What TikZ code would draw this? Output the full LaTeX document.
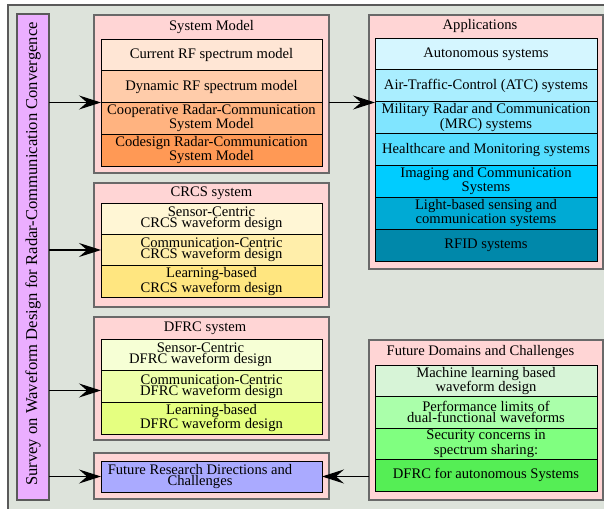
\documentclass[tikz,border=0pt]{standalone}
\usepackage{fontspec}
\setmainfont{Liberation Serif}
\usetikzlibrary{arrows.meta,calc}

\definecolor{bgfill}{RGB}{221,227,219}
\definecolor{frameline}{RGB}{90,90,90}
\definecolor{groupfill}{HTML}{FFD5D5}
\definecolor{groupline}{RGB}{105,105,105}
\definecolor{barfill}{HTML}{EBAEFF}
% system model rows
\definecolor{smA}{HTML}{FFE6D5}
\definecolor{smB}{HTML}{FFCCAA}
\definecolor{smC}{HTML}{FFB380}
\definecolor{smD}{HTML}{FF9955}
% application rows
\definecolor{apA}{HTML}{D5F6FF}
\definecolor{apB}{HTML}{AAEEFF}
\definecolor{apC}{HTML}{80E5FF}
\definecolor{apD}{HTML}{55DDFF}
\definecolor{apE}{HTML}{00CCFF}
\definecolor{apF}{HTML}{00AAD4}
\definecolor{apG}{HTML}{0088AA}
% CRCS rows
\definecolor{crA}{HTML}{FFF6D5}
\definecolor{crB}{HTML}{FFEEAA}
\definecolor{crC}{HTML}{FFE680}
% DFRC rows
\definecolor{dfA}{HTML}{F6FFD5}
\definecolor{dfB}{HTML}{EEFFAA}
\definecolor{dfC}{HTML}{E5FF80}
% future research / future domains
\definecolor{frfill}{HTML}{AAAAFF}
\definecolor{fdA}{HTML}{D7F4D7}
\definecolor{fdB}{HTML}{AAFFAA}
\definecolor{fdC}{HTML}{80FF80}
\definecolor{fdD}{HTML}{55EE55}

\newcommand{\rowfont}{\fontsize{14.6pt}{11pt}\selectfont}
\newcommand{\barfont}{\fontsize{16.6pt}{18pt}\selectfont}

\tikzset{
  groupbox/.style={draw=groupline, fill=groupfill, line width=1.3pt,
    anchor=north west, inner sep=0pt, outer sep=0pt},
  rowbox/.style={draw=black, line width=0.8pt, anchor=north west,
    inner sep=0pt, outer sep=0pt, align=center, font=\rowfont},
  lrow/.style={rowbox, minimum width=221pt},
  rrow/.style={rowbox, minimum width=222pt},
  grouptitle/.style={font=\rowfont, inner sep=0pt},
  plaintext/.style={font=\rowfont, inner sep=0pt, align=center},
  arr/.style={line width=1.2pt, -{Stealth[length=22pt,width=14pt,inset=8pt]}},
}

\begin{document}
\begin{tikzpicture}[x=1pt,y=-1pt]
\useasboundingbox (0,0) rectangle (604,508);
\clip (0,0) rectangle (604,508);

% outer frame
\draw[draw=frameline, fill=bgfill, line width=1.5pt] (8,5) rectangle (640,540);

% vertical title bar
\node[draw=frameline, fill=barfill, line width=1.2pt, anchor=north west,
  minimum width=32pt, minimum height=486pt, inner sep=0pt, outer sep=0pt]
  (bar) at (17,14) {};
\node[rotate=90, font=\barfont, inner sep=0pt] (bartext) at (33,254)
  {Survey on Waveform Design for Radar-Communication Convergence};

% ---- System Model ----
\node[groupbox, minimum width=235pt, minimum height=158pt] (smbox) at (94,15) {};
\node[grouptitle] (smtitle) at (211.5,27) {System Model};
\node[lrow, fill=smA, minimum height=31.75pt] (sm1) at (101,39) {Current RF spectrum model};
\node[lrow, fill=smB, minimum height=31.75pt] (sm2) at (sm1.south west) {Dynamic RF spectrum model};
\node[lrow, fill=smC, minimum height=31.75pt] (sm3) at (sm2.south west) {Cooperative Radar-Communication\\System Model};
\node[lrow, fill=smD, minimum height=31.75pt] (sm4) at (sm3.south west) {Codesign Radar-Communication\\System Model};

% ---- Applications ----
\node[groupbox, minimum width=234pt, minimum height=254pt] (apbox) at (369,15) {};
\node[grouptitle] (aptitle) at (480,26) {Applications};
\node[rrow, fill=apA, minimum height=31.86pt] (ap1) at (375,38) {Autonomous systems};
\node[rrow, fill=apB, minimum height=31.86pt] (ap2) at (ap1.south west) {Air-Traffic-Control (ATC) systems};
\node[rrow, fill=apC, minimum height=31.86pt] (ap3) at (ap2.south west) {Military Radar and Communication\\(MRC) systems};
\node[rrow, fill=apD, minimum height=31.86pt] (ap4) at (ap3.south west) {Healthcare and Monitoring systems};
\node[rrow, fill=apE, minimum height=31.86pt] (ap5) at (ap4.south west) {Imaging and Communication\\Systems};
\node[rrow, fill=apF, minimum height=31.86pt] (ap6) at (ap5.south west) {Light-based sensing and\\communication systems};
\node[rrow, fill=apG, minimum height=31.86pt] (ap7) at (ap6.south west) {RFID systems};

% ---- CRCS system ----
\node[groupbox, minimum width=235pt, minimum height=124pt] (crbox) at (94,183) {};
\node[grouptitle] (crtitle) at (211.5,193) {CRCS system};
\node[lrow, fill=crA, minimum height=31.33pt] (cr1) at (101,203) {Sensor-Centric\\CRCS waveform design};
\node[lrow, fill=crB, minimum height=31.33pt] (cr2) at (cr1.south west) {Communication-Centric\\CRCS waveform design};
\node[lrow, fill=crC, minimum height=31.33pt] (cr3) at (cr2.south west) {Learning-based\\CRCS waveform design};

% ---- DFRC system ----
\node[groupbox, minimum width=235pt, minimum height=123pt] (dfbox) at (94,317) {};
\node[grouptitle] (dftitle) at (205,328) {DFRC system};
\node[lrow, fill=dfA, minimum height=31.67pt] (df1) at (101,339) {};
\node[plaintext] (df1text) at ([xshift=-11pt]df1.center) {Sensor-Centric\\DFRC waveform design};
\node[lrow, fill=dfB, minimum height=31.67pt] (df2) at (df1.south west) {Communication-Centric\\DFRC waveform design};
\node[lrow, fill=dfC, minimum height=31.67pt] (df3) at (df2.south west) {Learning-based\\DFRC waveform design};

% ---- Future research directions ----
\node[groupbox, minimum width=235pt, minimum height=46pt] (frbox) at (94,453) {};
\node[lrow, fill=frfill, minimum height=31pt] (fr) at (101,461) {};
\node[plaintext] (frtext) at ([xshift=-11.5pt]fr.center) {Future Research Directions and\\Challenges};

% ---- Future domains and challenges ----
\node[groupbox, minimum width=234pt, minimum height=160pt] (fdbox) at (369,340) {};
\node[grouptitle] (fdtitle) at (480.5,352) {Future Domains and Challenges};
\node[rrow, fill=fdA, minimum height=31.5pt] (fd1) at (375,365) {Machine learning based\\waveform design};
\node[rrow, fill=fdB, minimum height=31.5pt] (fd2) at (fd1.south west) {Performance limits of\\dual-functional waveforms};
\node[rrow, fill=fdC, minimum height=31.5pt] (fd3) at (fd2.south west) {Security concerns in\\spectrum sharing:};
\node[rrow, fill=fdD, minimum height=31.5pt] (fd4) at (fd3.south west) {DFRC for autonomous Systems};

% ---- connectors ----
\draw[arr] (bar.east |- sm3.north west) -- (sm3.north west);
\draw[arr] (bar.east |- cr2.west) -- (cr2.west);
\draw[arr] ([yshift=-4pt]bar.east |- df2.west) -- ([yshift=-4pt]df2.west);
\draw[arr] (bar.east |- fr.west) -- (fr.west);
\draw[arr] (smbox.east |- sm3.north west) -- (ap3.west |- sm3.north west);
\draw[arr] (fdbox.west |- fr.east) -- (fr.east);
\end{tikzpicture}
\end{document}
